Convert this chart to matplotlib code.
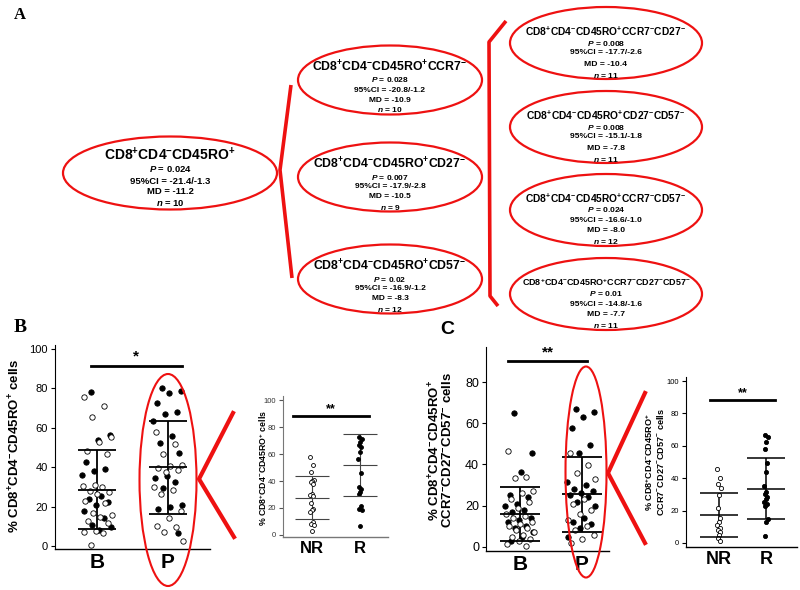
import numpy as np
import matplotlib
matplotlib.use("Agg")
import matplotlib.pyplot as plt
from matplotlib.patches import Ellipse

plt.rcParams['font.family'] = ['Liberation Sans', 'DejaVu Sans']
plt.rcParams['mathtext.fontset'] = 'custom'
plt.rcParams['mathtext.rm'] = 'Liberation Sans:bold'
plt.rcParams['mathtext.it'] = 'Liberation Sans:bold:italic'
plt.rcParams['mathtext.bf'] = 'Liberation Sans:bold'

# ---- Panel A: subsets and statistics ----
subset_left = "CD8+CD4-CD45RO+"
stats_left = ["0.024", "-21.4/-1.3", "-11.2", "10"]

subsets_mid = ["CD8+CD4-CD45RO+CCR7-", "CD8+CD4-CD45RO+CD27-", "CD8+CD4-CD45RO+CD57-"]
stats_mid = [["0.028", "-20.8/-1.2", "-10.9", "10"],
             ["0.007", "-17.9/-2.8", "-10.5", "9"],
             ["0.02", "-16.9/-1.2", "-8.3", "12"]]

subsets_right = ["CD8+CD4-CD45RO+CCR7-CD27-", "CD8+CD4-CD45RO+CD27-CD57-",
                 "CD8+CD4-CD45RO+CCR7-CD57-", "CD8+CD4-CD45RO+CCR7-CD27-CD57-"]
stats_right = [["0.008", "-17.7/-2.6", "-10.4", "11"],
               ["0.008", "-15.1/-1.8", "-7.8", "11"],
               ["0.024", "-16.6/-1.0", "-8.0", "12"],
               ["0.01", "-14.8/-1.6", "-7.7", "11"]]

# ---- Panel B: % CD8+CD4-CD45RO+ ----
bB_filled = [78.0, 56.3, 53.8, 42.8, 39.1, 38.1, 36.0, 25.5, 23.7, 22.5, 20.8, 17.9, 14.0, 10.7, 9.5, 8.1]
bB_open = [75.5, 71.1, 65.6, 55.5, 52.9, 48.2, 46.5, 31.0, 30.5, 30.1, 27.9, 27.5, 26.5, 22.8, 22.0,
           16.6, 15.5, 14.9, 12.7, 11.5, 7.5, 6.9, 6.5, 0.5]
bP_filled = [80.0, 78.8, 77.8, 72.4, 68.2, 66.8, 63.3, 56.0, 52.1, 47.1, 35.5, 34.7, 32.6, 29.6,
             20.8, 19.7, 18.8, 6.4]
bP_open = [57.7, 51.6, 46.5, 41.1, 40.5, 39.7, 38.5, 37.5, 30.1, 28.2, 26.2, 18.0, 14.0, 10.3, 9.5, 7.0, 2.5]
bBP_mean = [28.5, 40.0]
bBP_sd = [20.1, 23.6]

bNR = [57.6, 51.5, 46.8, 40.9, 40.2, 39.2, 38.0, 30.6, 29.9, 28.9, 24.0, 19.6, 18.4, 17.2, 9.8, 8.3, 7.4, 2.9]
bR = [72.3, 71.1, 68.6, 66.7, 64.9, 61.3, 56.4, 46.1, 35.5, 34.3, 31.9, 30.1, 21.3, 18.9, 18.2, 6.9]
bNRR_mean = [27.7, 52.0]
bNRR_sd = [16.2, 23.2]

# ---- Panel C: % CD8+CD4-CD45RO+CCR7-CD27-CD57- ----
cB_filled = [64.9, 45.5, 36.3, 25.0, 24.0, 21.0, 20.0, 18.0, 17.0, 14.0, 13.0, 12.0, 10.0, 9.0, 7.0, 5.0, 3.0]
cB_open = [46.6, 34.0, 33.3, 27.0, 26.0, 23.0, 22.0, 19.0, 16.0, 15.0, 14.0, 12.0, 11.0, 10.0, 9.0,
           8.0, 7.0, 6.0, 5.0, 4.0, 3.0, 1.5, 0.5]
cP_filled = [67.0, 65.5, 62.8, 57.9, 49.2, 45.5, 31.7, 30.1, 28.0, 27.0, 26.0, 25.0, 24.0, 22.0, 20.0,
             14.0, 12.0, 11.0, 9.0, 5.0]
cP_open = [45.8, 39.8, 35.8, 33.0, 23.0, 21.0, 18.0, 16.0, 13.0, 10.0, 8.0, 6.0, 4.0, 2.0]
cBP_mean = [15.9, 25.6]
cBP_sd = [13.2, 18.2]

cNR = [45.5, 39.9, 36.2, 33.7, 29.6, 21.4, 15.2, 13.2, 11.1, 9.5, 8.0, 6.6, 4.9, 2.9, 1.2]
cR = [66.7, 65.2, 62.6, 57.8, 49.2, 44.0, 35.2, 31.7, 30.2, 28.6, 27.2, 25.5, 23.9, 22.8, 14.6, 13.2, 4.3]
cNRR_mean = [17.3, 33.5]
cNRR_sd = [13.4, 19.0]


def sup(s):
    return s.replace("+", "$^{+}$").replace("-", "$^{-}$")


def spread(n, w, phase=0.0):
    return w * (((np.arange(n) * 0.618 + phase) % 1.0) - 0.5) * 2


fig = plt.figure(figsize=(8, 5.9), dpi=100)
W, H = 800.0, 590.0


def px_axes(x0, y0, x1, y1):
    return fig.add_axes([x0 / W, 1 - y1 / H, (x1 - x0) / W, (y1 - y0) / H])


def dot_panel(ax, groups, means, sds, jit, size, half, lw, lcol, ticksize, labsize):
    for i, (filled, opened) in enumerate(groups):
        x = i + 1
        if filled:
            ax.scatter(x + spread(len(filled), jit, 0.3), filled, s=size, facecolor='black',
                       edgecolor='black', linewidths=0.6, zorder=3, clip_on=False)
        if opened:
            ax.scatter(x + spread(len(opened), jit, 0.1), opened, s=size, facecolor='white',
                       edgecolor='black', linewidths=0.6, zorder=3, clip_on=False)
        m, s = means[i], sds[i]
        ax.vlines(x, m - s, m + s, color=lcol, lw=lw, zorder=2)
        ax.hlines([m - s, m, m + s], x - half, x + half, color=lcol, lw=lw, zorder=4)
    for sp in ['top', 'right']:
        ax.spines[sp].set_visible(False)
    ax.spines['left'].set_linewidth(0.8)
    ax.spines['bottom'].set_linewidth(1.0)
    ax.tick_params(axis='y', labelsize=ticksize, length=3, width=0.8, pad=2)
    ax.tick_params(axis='x', length=0, labelsize=labsize, pad=3)


# ---- B main ----
axB = px_axes(55, 345, 210, 549)
dot_panel(axB, [(bB_filled, bB_open), (bP_filled, bP_open)], bBP_mean, bBP_sd,
          0.22, 15, 0.27, 1.3, 'black', 8, 15)
axB.set_xlim(0.41, 2.59)
axB.set_ylim(-1.5, 102)
axB.set_yticks([0, 20, 40, 60, 80, 100])
axB.set_xticks([1, 2])
axB.set_xticklabels(["B", "P"], fontweight='bold', fontsize=15)
axB.plot([0.91, 2.2], [91.4, 91.4], color='black', lw=2, clip_on=False)
axB.text(1.55, 92.5, "*", ha='center', va='bottom', fontsize=11, fontweight='bold')

# ---- B small ----
axb = px_axes(283, 396, 388, 537)
dot_panel(axb, [([], bNR), (bR, [])], bNRR_mean, bNRR_sd,
          0.04, 8, 0.35, 0.8, '#444444', 5.5, 12)
axb.set_xlim(0.4, 2.58)
axb.set_ylim(-1.5, 103)
axb.set_yticks([0, 20, 40, 60, 80, 100])
axb.set_xticks([1, 2])
axb.set_xticklabels(["NR", "R"], fontweight='bold', fontsize=12)
axb.tick_params(axis='y', colors='#555555', labelcolor='#333333')
axb.spines['left'].set_color('#777777')
axb.spines['bottom'].set_color('#777777')
axb.plot([0.6, 2.19], [88, 88], color='black', lw=2, clip_on=False)
axb.text(1.4, 89, "**", ha='center', va='bottom', fontsize=9, fontweight='bold')

# ---- C main ----
axC = px_axes(486, 347, 609, 551)
dot_panel(axC, [(cB_filled, cB_open), (cP_filled, cP_open)], cBP_mean, cBP_sd,
          0.24, 15, 0.32, 1.3, 'black', 9, 15)
axC.set_xlim(0.45, 2.44)
axC.set_ylim(-2, 97)
axC.set_yticks([0, 20, 40, 60, 80])
axC.set_xticks([1, 2])
axC.set_xticklabels(["B", "P"], fontweight='bold', fontsize=15)
axC.plot([0.81, 2.08], [90, 90], color='black', lw=2, clip_on=False)
axC.text(1.45, 91, "**", ha='center', va='bottom', fontsize=11, fontweight='bold')

# ---- C small ----
axc = px_axes(686, 377, 797, 547)
dot_panel(axc, [([], cNR), (cR, [])], cNRR_mean, cNRR_sd,
          0.04, 9, 0.4, 1.1, 'black', 5.5, 13)
axc.set_xlim(0.3, 2.66)
axc.set_ylim(-2.5, 102.5)
axc.set_yticks([0, 20, 40, 60, 80, 100])
axc.set_xticks([1, 2])
axc.set_xticklabels(["NR", "R"], fontweight='bold', fontsize=13)
axc.plot([0.81, 2.19], [88, 88], color='black', lw=2, clip_on=False)
axc.text(1.5, 89, "**", ha='center', va='bottom', fontsize=9, fontweight='bold')

# ---- overlay in pixel coordinates ----
ov = fig.add_axes([0, 0, 1, 1], zorder=10)
ov.set_xlim(0, W)
ov.set_ylim(H, 0)
ov.axis('off')
red = '#ee1111'


def bubble(cx, cy, w, h, title, st, tsize, ssize, offs):
    ov.add_patch(Ellipse((cx, cy), w, h, fill=False, edgecolor=red, lw=1.6))
    lines = [sup(title), "$P$ = " + st[0], "95%CI = " + st[1], "MD = " + st[2], "$n$ = " + st[3]]
    for k, (txt, dy) in enumerate(zip(lines, offs)):
        ov.text(cx, cy + dy, txt, ha='center', va='center', fontweight='bold',
                fontsize=tsize if k == 0 else ssize)


bubble(170, 173, 214, 73, subset_left, stats_left, 10, 6.8, [-18, -4, 8, 19, 30])
mid_y = [80, 177, 279]
for cy, t, st in zip(mid_y, subsets_mid, stats_mid):
    bubble(390, cy, 184, 69, t, st, 8.8, 6.0, [-13, 0, 10, 20, 30])
right_y = [43, 127, 210, 294]
right_size = [7.4, 7.4, 7.4, 6.5]
for cy, t, st, fs in zip(right_y, subsets_right, stats_right, right_size):
    bubble(606, cy, 192, 72, t, st, fs, 6.1, [-11.5, 0, 10, 21, 32])

# brackets
ov.plot([291, 280, 292], [85, 170, 278], color=red, lw=2.6, solid_capstyle='butt')
ov.plot([506, 489, 490, 498], [21, 42, 296, 306], color=red, lw=2.6, solid_capstyle='butt')

# B / C highlight ellipses and wedges
ov.add_patch(Ellipse((168, 480), 57, 212, fill=False, edgecolor=red, lw=1.5))
ov.plot([233, 199, 234], [413, 479, 537], color=red, lw=3)
ov.add_patch(Ellipse((586, 472), 41, 211, fill=False, edgecolor=red, lw=1.5))
ov.plot([645, 608, 645], [393, 473, 543], color=red, lw=3)

# y labels
ov.text(15, 446, sup("% CD8+CD4-CD45RO+ cells"), rotation=90, ha='center', va='center',
        fontsize=9.5, fontweight='bold')
ov.text(263, 468, sup("% CD8+CD4-CD45RO+ cells"), rotation=90, ha='center', va='center',
        fontsize=6.3, fontweight='bold')
ov.text(441, 450, sup("% CD8+CD4-CD45RO+") + "\n" + sup("CCR7-CD27-CD57- cells"), rotation=90,
        ha='center', va='center', fontsize=9.5, fontweight='bold', linespacing=1.0)
ov.text(655, 462, sup("% CD8+CD4-CD45RO+") + "\n" + sup("CCR7-CD27-CD57- cells"), rotation=90,
        ha='center', va='center', fontsize=6.6, fontweight='bold', linespacing=1.0)

# panel letters
ov.text(20, 15, "A", fontsize=12, fontweight='bold', family='Liberation Serif', ha='center', va='center')
ov.text(20, 327, "B", fontsize=14, fontweight='bold', family='Liberation Serif', ha='center', va='center')
ov.text(447, 329, "C", fontsize=14, fontweight='bold', ha='center', va='center')

fig.savefig("out.png", dpi=100)
